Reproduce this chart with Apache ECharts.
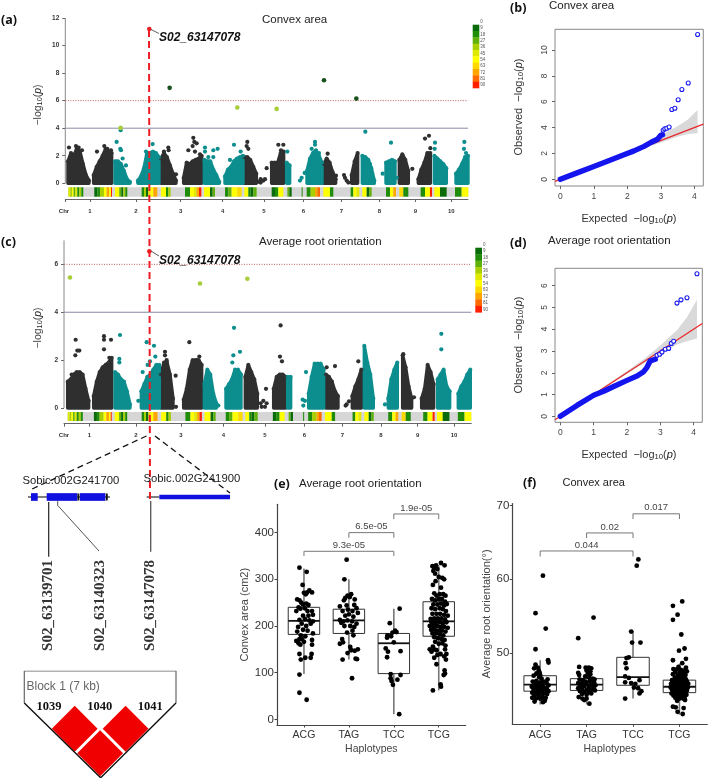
<!DOCTYPE html>
<html><head><meta charset="utf-8"><style>html,body{margin:0;padding:0;background:#fff}#c{width:708px;height:778px}</style>
<script src="https://cdn.jsdelivr.net/npm/echarts@6/dist/echarts.min.js"></script></head><body><div id="c"></div>
<script>
// ---------- Manhattan panel (a): column heights [start position, heights at steps of 9 position units]
const aBlackColumns=[[204,1.6,2.2,2.0,2.6,2.3,1.4,.6,.2],[281,.6,1.2,1.6,2.0,2.5,2.3,2.2],[483,1.8,2.2,1.9,1.3,.7,.2],[551,.4,1.5,1.4,1.6,1.7,1.8,2.0],[733,1.9,1.9,1.7,1.2,.7],[815,1.5,1.5,1.5,2.2,2.3],[971,1.4,1.8,1.5,.8,.3],[1055,.6,1.6,2.2],[1198,1.7,2.1,1.7,.9],[1255,.3,1.0,1.5,2.2,2.2]];
const aTealColumns=[[345,1.6,1.6,1.4,.9,.3,.1],[414,.2,.5,1.1,2.2,2.2,2.3,2.2,1.9],[613,1.7,1.6,1.6,1.0,.6,.1],[675,.5,1.0,1.2,1.6,1.8,1.9,2.0],[860,1.5,1.3],[921,.9,1.8,2.2,2.4,2.0,1.5],[1087,2.0,1.9,1.7,1.1,.2],[1158,1.5,1.6,1.7,1.6],[1303,2.0,1.8,1.6,1.4,1.1],[1368,.7,1.0,1.4,1.9,2.0]];
const aBlackPoints=[[207,2.6],[228,2.7],[236,2.6],[246,2.4],[291,2.3],[313,2.7],[322,2.5],[333,2.4],[492,2.3],[505,2.6],[506,2.4],[528,.65],[522,.2],[565,2.4],[580,3.3],[583,3.0],[578,2.7],[590,2.9],[585,2.3],[600,2.1],[742,3.0],[740,2.7],[745,2.5],[778,.1],[782,.3],[790,.2],[795,.3],[782,.05],[800,1.1],[835,2.8],[850,2.8],[843,2.4],[983,2.15],[1008,.55],[1032,.6],[1035,.4],[1040,.2],[1045,.05],[1237,1.05],[1275,3.25],[1287,3.45],[1291,2.55],[1265,.9]];
const aTealPoints=[[350,3.0],[362,3.85],[361,2.5],[363,2.4],[368,1.8],[378,1.3],[415,.1],[458,2.85],[438,2.3],[615,2.6],[615,2.3],[640,2.4],[653,2.5],[640,1.9],[625,1.9],[702,2.8],[722,2.3],[690,1.7],[862,2.3],[905,.4],[914,.75],[900,.2],[945,3.0],[945,2.8],[935,2.5],[957,2.2],[1096,3.75],[1110,1.4],[1148,.7],[1173,2.95],[1190,.4],[1305,2.95],[1304,2.5],[1393,3.0],[1392,2.5],[1398,2.2]];
const aHits=[[448,11.2,'#ee1c25'],[509,6.93,'#17521c'],[972,7.48,'#17521c'],[1069,6.15,'#17521c'],[712,5.5,'#a6ce39'],[830,5.4,'#a6ce39'],[362,4.02,'#a6ce39']];
const aChrTicks=[270,408,542,668,792,910,1024,1138,1246,1354];
// ---------- Manhattan panel (c)
const cBlackColumns=[[203,1.1,1.2,1.4,1.5,1.5,1.4,.8,.3],[281,.5,1.1,1.5,1.7,1.8,1.9,2.1],[483,1.4,1.9,1.9,1.4,.4],[551,.35,.8,1.6,2.0,2.0,2.0,1.8],[736,1.3,1.8,1.5,1.2,.6],[821,.8,1.3,1.4,1.4,1.3],[978,1.4,1.3,1.1,.7,.5],[1057,.5,.9,1.2,1.6],[1208,2.2,1.7,.9,.4],[1265,.4,.8,1.8,1.5,1.0]];
const cTealColumns=[[345,1.5,1.4,1.2,1.1,.7,.15],[424,.7,1,1.3,1.4,1.6,1.8,1.8],[613,1.0,1.6,1.4,.6,.2],[678,.8,1,1.2,1.6,1.6,1.4],[863,1.3,1.3],[926,.6,1.3,1.85,1.85,1.85,1.6],[1093,2.6,1.9,1.4,.4],[1165,.4,1.2,1.6,1.9],[1313,1.2,1.4,1.6,.9,.7],[1375,.6,.9,1.1,1.4,1.6]];
const cBlackPoints=[[227,2.85],[232,2.4],[238,2.4],[226,2.2],[215,1.4],[312,3.0],[312,2.85],[333,2.85],[312,2.45],[328,2.1],[495,2.35],[495,2.2],[500,2.0],[527,1.35],[528,.05],[568,2.75],[598,2.15],[590,2.0],[782,.2],[790,.3],[800,.2],[798,.8],[785,.05],[795,.05],[842,3.45],[840,2.15],[846,1.95],[980,1.7],[1005,1.75],[1037,.1],[1040,.15],[1047,.28],[1075,1.95],[1242,.45],[1210,2.25]];
const cTealPoints=[[360,3.05],[358,2.05],[358,1.9],[415,.3],[440,2.75],[462,2.6],[466,2.15],[450,1.95],[428,1.5],[443,1.8],[655,.1],[702,3.35],[720,2.35],[700,2.2],[697,1.9],[918,1.5],[908,.35],[915,.3],[910,.1],[1155,.15],[1324,3.1],[1324,2.45]];
const cHits=[[448,6.55,'#ee1c25'],[210,5.45,'#a6ce39'],[600,5.2,'#a6ce39'],[742,5.4,'#a6ce39']];
const cChrTicks=[268,408,543,670,795,913,1027,1143,1253,1362];
// ---------- SNP density strip [from, to, density class]
const densityColors=['#0a6b0a','#1f8c0a','#5fb00a','#a8d000','#dfe800','#ffff00','#ffd800','#ffa500','#ff6a00','#ff2000'];
const densityLabels=[0,9,18,27,36,45,54,63,72,81,90];
const stripSegments=[[205,211,4],[211,216,3],[216,221,5],[221,226,2],[226,232,4],[232,238,1],[238,244,3],[244,250,1],[283,292,0],[292,300,1],[300,312,3],[312,320,5],[320,328,7],[328,333,5],[333,336,9],[345,358,5],[358,364,2],[364,370,0],[370,376,3],[376,382,1],[425,432,1],[432,438,3],[438,445,0],[445,452,6],[452,460,5],[460,472,7],[483,498,5],[498,505,1],[505,512,3],[555,570,1],[570,582,5],[582,590,4],[590,597,7],[597,604,9],[612,630,5],[630,638,0],[638,645,2],[675,685,1],[685,695,2],[695,712,5],[712,725,6],[733,745,5],[745,752,1],[752,760,0],[760,770,2],[815,825,0],[825,835,1],[835,850,5],[862,868,2],[868,875,0],[905,908,1],[920,932,1],[932,945,3],[945,952,7],[952,960,8],[970,990,5],[990,1000,1],[1052,1060,1],[1060,1070,5],[1070,1078,4],[1087,1100,5],[1100,1108,0],[1108,1115,2],[1158,1170,1],[1170,1180,5],[1180,1188,7],[1198,1210,6],[1210,1225,1],[1262,1275,1],[1275,1290,5],[1290,1296,9],[1303,1320,5],[1320,1340,0],[1365,1385,1],[1385,1405,5]];
// ---------- QQ panels
const bLineX=[0,.5,1,1.5,1.9,2.2,2.5,2.7,2.9,3.0,3.05];
const bLineY=[0,.5,1,1.5,1.9,2.2,2.55,2.85,3.1,3.4,3.45];
const bSparse=[[3.07,3.8],[3.12,3.9],[3.18,3.95],[3.25,4.05],[3.33,5.4],[3.42,5.5],[3.52,6.15],[3.63,6.95],[3.82,7.45],[4.1,11.2]];
const bBandX=[2,2.5,3,3.5,3.8,4.1];
const bBandHi=[2.1,2.7,3.4,4.1,4.6,5.36];
const bBandLo=[1.93,2.38,2.85,3.3,3.5,3.56];
const dLineX=[0,.5,1,1.3,1.6,2,2.3,2.5,2.6,2.7,2.85];
const dLineY=[0,.5,.97,1.15,1.37,1.65,1.85,2.05,2.25,2.55,2.62];
const dSparse=[[2.9,2.8],[2.98,2.85],[3.05,2.95],[3.15,3.08],[3.25,3.12],[3.33,3.35],[3.4,3.45],[3.5,5.2],[3.62,5.35],[3.8,5.45],[4.1,6.55]];
const dBandX=[1.2,2,2.5,3,3.5,3.8,4.1];
const dBandHi=[1.25,2.08,2.62,3.25,3.95,4.55,5.35];
const dBandLo=[1.18,1.95,2.43,2.85,3.3,3.45,3.58];
// ---------- Haplotype panels
const categories=['ACG','TAG','TCC','TCG'];
const eLo=[97,128,11,62],eQ1=[182,184,98,178],eMed=[211,212,163,210],eQ3=[240,236,184,252],eHi=[323,300,237,330];
const ePairs=[[1,3,350,360,'9.3e-05'],[2,3,389,400,'6.5e-05'],[3,4,429,440,'1.9e-05']];
const eACG=[[-.1,325],[.06,316],[-.03,288],[0,271],[.07,272],[.12,276],[.18,272],[.04,268],[-.15,257],[-.1,255],[-.06,250],[-.02,246],[.05,248],[.1,245],[-.12,240],[-.17,232],[-.08,237],[.02,238],[.08,232],[.18,232],[.2,224],[.1,222],[-.02,222],[.02,215],[.12,212],[-.1,213],[.2,210],[-.05,205],[.05,200],[.15,205],[-.13,198],[-.02,192],[.08,190],[.2,184],[-.15,188],[-.07,180],[.03,178],[-.1,172],[-.17,168],[0,166],[-.12,163],[.18,170],[.18,160],[-.08,160],[-.05,172],[.17,140],[.15,132],[-.1,140],[-.07,128],[.03,132],[-.1,96],[-.1,57],[.06,42]];
const eTAG=[[-.05,342],[-.1,300],[.05,268],[-.03,265],[-.08,260],[-.11,255],[.13,257],[.02,262],[.12,245],[-.2,242],[-.05,244],[.17,238],[-.14,232],[-.02,235],[.08,232],[.2,228],[0,225],[-.08,222],[.1,220],[-.2,213],[-.12,210],[-.03,212],[.07,210],[.17,205],[-.17,207],[-.1,200],[.03,200],[.12,198],[.08,190],[-.04,186],[.1,180],[-.15,172],[-.2,162],[-.13,165],[.03,155],[.05,148],[.2,150],[.13,147],[-.03,142],[.15,130],[.18,129],[-.14,128],[.07,88]];
const eTCC=[[.13,237],[-.09,206],[.03,190],[.06,187],[-.03,186],[-.14,180],[-.15,175],[-.06,178],[0,165],[-.18,152],[-.13,145],[.15,146],[-.15,133],[-.07,97],[.15,95],[-.07,88],[-.05,82],[.08,85],[-.02,74],[.12,11]];
const eTCG=[[-.14,328],[-.1,325],[-.12,318],[-.08,312],[-.06,330],[-.03,322],[.05,335],[.13,330],[0,305],[.08,303],[.12,300],[-.13,288],[-.07,296],[.05,282],[-.1,270],[-.05,265],[.02,268],[.1,268],[.15,265],[-.15,258],[-.08,255],[0,258],[.07,258],[.14,252],[.18,247],[-.12,246],[-.03,246],[.05,248],[.12,244],[-.16,238],[-.08,236],[.02,238],[.09,236],[.16,232],[-.14,226],[-.05,226],[.03,226],[.12,224],[.2,222],[-.18,215],[-.1,216],[-.02,216],[.06,216],[.14,214],[-.16,208],[-.08,208],[.01,208],[.09,206],[.17,208],[-.2,200],[-.12,200],[-.04,200],[.04,198],[.12,198],[.2,196],[-.17,192],[-.09,192],[-.01,190],[.07,190],[.15,188],[-.14,184],[-.06,184],[.03,182],[.1,180],[-.1,176],[-.02,174],[.06,172],[.13,170],[-.08,166],[0,162],[.08,163],[.15,158],[-.13,156],[-.1,150],[-.05,148],[-.2,150],[-.16,145],[.14,150],[.17,140],[.12,135],[.16,128],[-.03,138],[.04,140],[-.1,132],[-.05,118],[.13,105],[.14,98],[.11,95],[.04,75],[.05,70],[-.13,62]];
const fLo=[43,43,43.8,41.6],fQ1=[44.8,44.9,45.6,44.6],fMed=[45.7,45.7,46.7,45.4],fQ3=[46.9,46.5,49.4,46.3],fHi=[49,48,53,48.5];
const fPairs=[[1,3,63.1,63.85,'0.044'],[2,3,65.6,66.3,'0.02'],[3,4,68.2,68.9,'0.017']];
const fACG=[[.06,60.5],[-.1,55.4],[.12,53.3],[-.1,50.5],[.17,49],[.18,48.7],[-.1,48.4],[-.05,48],[-.13,47.9],[-.03,47.6],[-.01,47.3],[0,47],[-.08,47.2],[-.14,46.9],[-.02,46.7],[.03,46.5],[.16,46.4],[-.16,46.1],[-.08,46.2],[0,46],[.08,46.1],[.14,45.9],[-.12,45.8],[-.04,45.7],[.05,45.6],[.18,45.6],[-.18,45.4],[-.09,45.4],[-.01,45.3],[.07,45.3],[.14,45.2],[-.14,45],[-.05,45],[.03,44.9],[.11,44.9],[.18,44.8],[-.17,44.6],[-.09,44.6],[0,44.6],[.08,44.5],[.15,44.4],[-.13,44.2],[-.04,44.2],[.05,44.1],[.12,43.9],[-.17,43.9],[-.09,43.8],[0,43.8],[.08,43.7],[-.12,43.4],[.1,43.5],[.06,43.3]];
const fTAG=[[.15,54.8],[-.18,52],[-.16,48.1],[-.02,48],[.05,48],[.1,47.9],[0,47.6],[.08,47.5],[.03,47.2],[.08,47.1],[-.18,47.3],[-.16,47],[-.03,46.8],[.05,46.7],[.13,46.5],[.17,46.4],[-.15,46.4],[-.08,46.3],[-.02,46.1],[.07,46.2],[.16,46],[-.18,45.9],[-.1,45.9],[0,45.8],[.1,45.7],[.19,45.6],[-.14,45.5],[-.05,45.5],[.05,45.4],[.15,45.3],[-.18,45.2],[-.1,45.1],[0,45],[.1,45],[.18,44.9],[-.14,44.8],[-.05,44.7],[.05,44.7],[-.1,44.4],[0,44.3],[.1,44.5],[-.17,44],[-.09,43.8],[-.05,43.6],[0,43.8],[.06,43.1]];
const fTCC=[[.115,62.7],[.08,61.85],[-.04,52.9],[-.02,51.4],[.16,51.4],[-.14,49.3],[-.09,49.4],[-.16,48.6],[-.14,47.9],[-.17,46.8],[-.09,46.6],[.14,46.3],[-.17,46],[-.04,45.9],[.05,45.8],[.11,45.2],[.18,44.8],[.14,44.5],[-.17,43.8],[.02,45.3]];
const fTCG=[[.06,57],[-.14,56.4],[-.04,55.2],[-.14,54.5],[.04,52.5],[.11,50.6],[-.01,50.3],[.14,49.2],[-.14,49],[.06,48.6],[-.02,48.1],[.14,48],[-.13,47.8],[-.05,47.8],[.03,47.7],[.1,47.6],[.16,47.5],[-.09,47.4],[0,47.3],[.07,47.2],[-.14,47.1],[.13,47],[-.04,46.9],[.03,46.8],[.1,46.8],[-.1,46.6],[-.02,46.5],[.06,46.5],[.14,46.4],[-.16,46.3],[-.07,46.2],[0,46.2],[.08,46.2],[.16,46.1],[-.12,46],[-.04,46],[.04,45.9],[.12,45.9],[.19,45.8],[-.18,45.8],[-.09,45.7],[-.01,45.7],[.06,45.7],[.14,45.6],[-.15,45.5],[-.06,45.5],[.02,45.4],[.1,45.4],[.18,45.3],[-.19,45.3],[-.11,45.2],[-.03,45.2],[.05,45.2],[.13,45.1],[-.16,45],[-.08,45],[0,45],[.08,44.9],[.16,44.9],[-.12,44.8],[-.04,44.7],[.04,44.7],[.12,44.6],[-.17,44.5],[-.09,44.5],[-.01,44.4],[.07,44.4],[.15,44.3],[-.13,44.2],[-.05,44.2],[.03,44.1],[.11,44],[-.09,43.9],[0,43.8],[.08,43.8],[-.05,43.5],[.12,43.6],[-.14,42.7],[-.08,42.6],[.09,42.5],[-.04,42],[.07,41.7]];
// ---------- Gene models (base pairs on chromosome 2)
const gene1Span=[63138204,63144133],gene1Exons=[[63138421,63138906],[63139556,63141768],[63141964,63143793]],gene1Marks=[63141850,63143900];
const gene2Span=[63146789,63147700],gene2Exons=[[63147700,63152810]];
// ---------- LD block: [marker i, marker j, D']
const ldMarkers=[1039,1040,1041];
const ldCells=[[1039,1040,1],[1040,1041,1],[1039,1041,1]];
const ldTopOutline=[[1038.51,-.05],[1038.51,-1.36],[1041.49,-1.36],[1041.49,-.05]];
const ldLowOutline=[[1038.51,-.05],[1040.01,3.0],[1041.49,-.05]];

const BLACK='#2f2f2f',TEAL='#0c8d8e',SANS='"Liberation Sans",Arial,sans-serif',SERIF='"Liberation Serif",serif';
function columns(list,color){const out=[];list.forEach(b=>{for(let i=1;i<b.length;i++)out.push({value:[b[0]+(i-1)*9,b[i]],itemStyle:{color}})});return out}
function hidden(g,min,max,extra){return Object.assign({type:'value',gridIndex:g,min,max,show:false},extra||{})}
function manhattanX(g,min,max,ticks){return {type:'value',gridIndex:g,min,max,splitLine:{show:false},axisLine:{onZero:false,lineStyle:{color:'#666',width:1}},
  axisTick:{length:3,lineStyle:{color:'#666'},customValues:[min].concat(ticks)},
  axisLabel:{customValues:ticks,margin:9,fontSize:6,fontWeight:'bold',color:'#333',fontFamily:SANS,formatter:v=>String(ticks.indexOf(v)+1)}}}
function manhattanY(g,min,max,vals){return {type:'value',gridIndex:g,min,max,splitLine:{show:false},axisLine:{show:false},
  axisTick:{length:3,lineStyle:{color:'#666'},customValues:vals},axisLabel:{customValues:vals,margin:6,fontSize:6.5,fontWeight:'bold',color:'#333',fontFamily:SANS}}}
function manhattanSeries(g,blackC,tealC,blackP,tealP,hits,x0,yTop,strip,stripAxis){
  const cols=columns(blackC,BLACK).concat(columns(tealC,TEAL));
  const blocks=blackC.map(b=>({b,c:BLACK})).concat(tealC.map(b=>({b,c:TEAL})));
  const ax={xAxisIndex:g,yAxisIndex:g};
  const xEnd=g===0?1404:1414;
  return [
   Object.assign({type:'line',data:[[x0,0],[x0,yTop]],symbol:'none',lineStyle:{color:'#888',width:1},silent:true,z:1},ax),
   Object.assign({type:'line',data:[[x0,4],[xEnd,4]],symbol:'none',lineStyle:{color:'#8a8aa6',width:1},silent:true,z:1},ax),
   Object.assign({type:'line',data:[[x0,6],[xEnd,6]],symbol:'none',lineStyle:{color:'#c0605a',width:1,type:[1,1.5]},silent:true,z:1},ax),
   {type:'custom',xAxisIndex:stripAxis,yAxisIndex:g,data:[[205,1405,-1]].concat(stripSegments),z:2,silent:true,clip:false,
    renderItem:(p,api)=>{const a=api.coord([api.value(0),strip[0]]),b=api.coord([api.value(1),strip[1]]);const k=api.value(2);
      return {type:'rect',shape:{x:a[0],y:a[1],width:b[0]-a[0],height:b[1]-a[1]},style:{fill:k<0?'#d6d6d6':densityColors[k]}}}},
   Object.assign({type:'custom',data:blocks.map((o,i)=>[i]),z:3,silent:true,clip:false,renderItem:(p,api)=>{
     const o=blocks[p.dataIndex],b=o.b,xs=b[0],n=b.length-1,pts=[api.coord([xs,0])];
     for(let i=1;i<=n;i++)pts.push(api.coord([xs+(i-1)*9,b[i]]));
     pts.push(api.coord([xs+(n-1)*9,0]));
     return {type:'polygon',shape:{points:pts},style:{fill:o.c,stroke:o.c,lineWidth:3.4,lineJoin:'round'}}}},ax),
   Object.assign({type:'scatter',data:cols,symbolSize:4.2,z:4,silent:true},ax),
   Object.assign({type:'scatter',data:blackP,symbolSize:4.2,itemStyle:{color:BLACK,opacity:1},z:4,silent:true},ax),
   Object.assign({type:'scatter',data:tealP,symbolSize:4.2,itemStyle:{color:TEAL,opacity:1},z:4,silent:true},ax),
   Object.assign({type:'scatter',data:hits.map(h=>({value:[h[0],h[1]],itemStyle:{color:h[2],opacity:1}})),symbolSize:4.6,z:5,silent:true},ax)
  ];
}
function qqAxes(g,xr,yr,xv,yv){return [
 {type:'value',gridIndex:g,min:xr[0],max:xr[1],splitLine:{show:false},axisLine:{show:false,onZero:false},axisTick:{length:3,lineStyle:{color:'#666'},customValues:xv},axisLabel:{customValues:xv,margin:6,fontSize:8.5,color:'#444',fontFamily:SANS}},
 {type:'value',gridIndex:g,min:yr[0],max:yr[1],splitLine:{show:false},axisLine:{show:false,onZero:false},axisTick:{length:3,lineStyle:{color:'#666'},customValues:yv},axisLabel:{customValues:yv,margin:6,rotate:90,fontSize:8.5,color:'#444',fontFamily:SANS}}]}
function qqSeries(g,lx,ly,sparse,bx,hi,lo,xr){const ax={xAxisIndex:g,yAxisIndex:g};return [
 Object.assign({type:'custom',data:[[0]],z:2,silent:true,renderItem:(p,api)=>{const up=bx.map((x,i)=>api.coord([x,hi[i]]));const dn=bx.map((x,i)=>api.coord([x,lo[i]])).reverse();
   return {type:'polygon',shape:{points:up.concat(dn)},style:{fill:'#d9d9d9'}}}},ax),
 Object.assign({type:'line',data:[[xr[0],xr[0]],[xr[1],xr[1]]],symbol:'none',lineStyle:{color:'#e8262a',width:1.2},z:3,silent:true},ax),
 Object.assign({type:'line',data:lx.map((x,i)=>[x,ly[i]]),symbol:'none',lineStyle:{color:'#1414ee',width:5.4,cap:'round',join:'round'},z:4,silent:true},ax),
 Object.assign({type:'scatter',data:sparse,symbol:'circle',symbolSize:4,itemStyle:{color:'#fff',opacity:1,borderColor:'#1c1cf0',borderWidth:1.1},z:5,silent:true},ax)
]}
function boxAxes(g,yr,yv,name,gap){return [
 {type:'value',gridIndex:g,min:.4,max:4.6,splitLine:{show:false},axisLine:{onZero:false,lineStyle:{color:'#444',width:1.2}},axisTick:{length:2.5,lineStyle:{color:'#444'},customValues:[1,2,3,4]},
  axisLabel:{customValues:[1,2,3,4],margin:5,fontSize:10.5,color:'#333',fontFamily:SANS,formatter:v=>categories[v-1]},
  name:'Haplotypes',nameLocation:'middle',nameGap:19,nameTextStyle:{fontSize:10.5,color:'#444',fontFamily:SANS}},
 {type:'value',gridIndex:g,min:yr[0],max:yr[1],splitLine:{show:false},axisLine:{onZero:false,show:true,lineStyle:{color:'#444',width:1.2}},axisTick:{show:true,length:2.5,lineStyle:{color:'#444'},customValues:yv},
  axisLabel:{customValues:yv,margin:3,fontSize:11.5,color:'#333',fontFamily:SANS},
  name,nameLocation:'middle',nameGap:gap,nameTextStyle:{fontSize:11,color:'#444',fontFamily:SANS}}]}
function boxSeries(g,lo,q1,med,q3,hi,pairs,groups){const ax={xAxisIndex:g,yAxisIndex:g};const pts=[];
 groups.forEach((arr,i)=>arr.forEach(d=>pts.push([i+1+d[0],d[1]])));
 return [
 Object.assign({type:'custom',data:categories.map((c,i)=>[i+1,lo[i],q1[i],med[i],q3[i],hi[i]]),z:2,silent:true,renderItem:(p,api)=>{
   const c=api.value(0),w=.35,P=(x,y)=>api.coord([x,y]);
   const a=P(c,api.value(1)),b=P(c,api.value(2)),m=P(c,api.value(3)),t=P(c,api.value(4)),h=P(c,api.value(5)),L=P(c-w,0)[0],R=P(c+w,0)[0];
   return {type:'group',children:[
     {type:'line',shape:{x1:a[0],y1:a[1],x2:h[0],y2:h[1]},style:{stroke:'#777',lineWidth:1.6}},
     {type:'rect',shape:{x:L,y:t[1],width:R-L,height:b[1]-t[1]},style:{fill:'#fff',stroke:'#333',lineWidth:1}},
     {type:'line',shape:{x1:L,y1:m[1],x2:R,y2:m[1]},style:{stroke:'#111',lineWidth:1.8}}]}}},ax),
 Object.assign({type:'scatter',data:pts,symbolSize:4.8,itemStyle:{color:'#000',opacity:1},z:3,silent:true},ax),
 Object.assign({type:'custom',data:pairs.map(q=>[q[0],q[1],q[2],q[3]]),z:4,silent:true,renderItem:(p,api)=>{
   const x1=api.value(0),x2=api.value(1),tip=api.value(2),y=api.value(3);
   const A=api.coord([x1,tip]),B=api.coord([x1,y]),C=api.coord([x2,y]),D=api.coord([x2,tip]);
   return {type:'group',children:[
     {type:'polyline',shape:{points:[A,B,C,D]},style:{stroke:'#777',lineWidth:1,fill:'none'}},
     {type:'text',style:{x:(B[0]+C[0])/2,y:B[1]-1,text:pairs[p.dataIndex][4],fill:'#444',font:'9.5px '+SANS,align:'center',verticalAlign:'bottom',textAlign:'center',textVerticalAlign:'bottom'}}]}}},ax)
]}
const geneRows=[];
gene1Exons.forEach(e=>geneRows.push({s:e,h:7.7,c:'#1010e0'}));
gene2Exons.forEach(e=>geneRows.push({s:e,h:4.7,c:'#1010e0'}));
gene1Marks.forEach(m=>geneRows.push({s:[m-70,m+70],h:7,c:'#111'}));

function T(x,y,text,font,o){return Object.assign({type:'text',x,y,rotation:o&&o.rot?Math.PI/2:0,z:20,silent:true,style:{text,font,fill:(o&&o.fill)||'#222',align:(o&&o.align)||'left',verticalAlign:'middle',textAlign:(o&&o.align)||'left',textVerticalAlign:'middle',rich:o&&o.rich}})}
function L(x1,y1,x2,y2,stroke,w,dash){return {type:'line',z:15,silent:true,shape:{x1,y1,x2,y2},style:{stroke,lineWidth:w,lineDash:dash||null}}}
const logRich=(fs,c)=>({a:{fontSize:fs,fontFamily:SANS,fill:c,color:c},b:{fontSize:fs*.7,fontFamily:SANS,color:c,verticalAlign:'bottom',padding:[fs*.3,0,0,0]},i:{fontSize:fs,fontFamily:SANS,fontStyle:'italic',color:c}});
const logTxt=p=>'{a|'+p+'−log}{b|10}{a|(}{i|p}{a|)}';
const gfx=[
 T(1,20,'(a)','bold 12.5px "Open Sans",sans-serif',{fill:'#111'}),T(1,242,'(c)','bold 12.5px "Open Sans",sans-serif',{fill:'#111'}),
 T(510,8,'(b)','bold 12.5px "Open Sans",sans-serif',{fill:'#111'}),T(510,243,'(d)','bold 12.5px "Open Sans",sans-serif',{fill:'#111'}),
 T(274,484,'(e)','bold 12.5px "Open Sans",sans-serif',{fill:'#111'}),T(523,483,'(f)','bold 12.5px "Open Sans",sans-serif',{fill:'#111'}),
 T(262,19.5,'Convex area','11.5px '+SANS),T(259,241.5,'Average root orientation','11.5px '+SANS),
 T(549,5.5,'Convex area','11.5px '+SANS),T(548,240.5,'Average root orientation','11.5px '+SANS),
 T(299,484,'Average root orientation','11.5px '+SANS),T(562.5,483,'Convex area','11px '+SANS),
 T(38,105,logTxt(''),'10.5px '+SANS,{rot:1,align:'center',rich:logRich(10.5,'#444')}),
 T(38,328,logTxt(''),'10.5px '+SANS,{rot:1,align:'center',rich:logRich(10.5,'#444')}),
 T(519,107,logTxt('Observed  '),'11px '+SANS,{rot:1,align:'center',rich:logRich(11,'#333')}),
 T(519,345,logTxt('Observed  '),'11px '+SANS,{rot:1,align:'center',rich:logRich(11,'#333')}),
 T(629,219,logTxt('Expected  '),'11px '+SANS,{align:'center',rich:logRich(11,'#333')}),
 T(629,455,logTxt('Expected  '),'11px '+SANS,{align:'center',rich:logRich(11,'#333')}),
 T(64,211,'Chr','bold 6px '+SANS,{align:'center',fill:'#333'}),T(64,435.5,'Chr','bold 6px '+SANS,{align:'center',fill:'#333'}),
 T(159,37.5,'S02_63147078','italic bold 12px '+SANS,{fill:'#111'}),T(159,260.5,'S02_63147078','italic bold 12px '+SANS,{fill:'#111'}),
 L(151,29.5,159,33.5,'#333',.8),L(151,251,159,256,'#333',.8),
 L(149,30,150,502,'#ee1c25',2,[7,4]),
 L(146.5,436,30,490,'#111',1.3,[6,4]),L(155,436,230,493,'#111',1.3,[6,4]),
 T(22.5,480.7,'Sobic.002G241700','11.3px '+SANS),T(143.5,479.3,'Sobic.002G241900','11.3px '+SANS),
 L(48.7,502,48.7,556.7,'#222',1.2),L(58.3,506,99,551,'#555',1),L(57.7,501,57.7,506,'#555',1),L(150.7,501,150.7,551.7,'#555',1.3),
 T(48.5,605.5,'S02_63139701','bold 15px '+SERIF,{rot:1,align:'center',fill:'#333'}),
 T(100,605.5,'S02_63140323','bold 15px '+SERIF,{rot:1,align:'center',fill:'#333'}),
 T(150.5,605.5,'S02_63147078','bold 15px '+SERIF,{rot:1,align:'center',fill:'#333'}),
 T(26.5,687,'Block 1 (7 kb)','12px '+SANS,{fill:'#666'}),
 T(49,707,'1039','bold 12.5px '+SERIF,{align:'center',fill:'#111'}),T(99.7,707,'1040','bold 12.5px '+SERIF,{align:'center',fill:'#111'}),T(150.3,707,'1041','bold 12.5px '+SERIF,{align:'center',fill:'#111'})
];
function ramp(x,y0,cell,w){densityColors.forEach((c,i)=>gfx.push({type:'rect',z:12,silent:true,shape:{x,y:y0+i*cell,width:w,height:cell+.3},style:{fill:c}}));
 densityLabels.forEach((v,i)=>gfx.push(T(x+w+1,y0-2.7+i*cell-0.3,String(v),'4.5px '+SANS,{fill:'#555'})))}
ramp(472.7,24.7,6.33,6.6);ramp(475.3,247.7,6.46,6.7);

const opt={animation:false,backgroundColor:'#fff',
 grid:[
  {left:65.3,top:18,width:402.7,height:181},
  {left:64,top:240.4,width:407.3,height:183.3},
  {left:555,top:29.3,width:148.3,height:156.7,show:true,borderColor:'#888',borderWidth:1},
  {left:555,top:268.3,width:147.3,height:154,show:true,borderColor:'#888',borderWidth:1},
  {left:277,top:504.3,width:188.7,height:220.7},
  {left:512.3,top:503.5,width:195,height:220.8},
  {left:0,top:490,width:240,height:14},
  {left:24.3,top:671,width:151.7,height:108}],
 xAxis:[manhattanX(0,196,1404,aChrTicks),manhattanX(1,192,1414,cChrTicks),
  qqAxes(2,[-.16,4.27],[-.515,11.6],[0,1,2,3,4],[0,2,4,6,8,10])[0],qqAxes(3,[-.16,4.26],[-.276,6.8],[0,1,2,3,4],[0,1,2,3,4,5,6])[0],
  boxAxes(4,[-12.1,460.7],[0,100,200,300,400],'Convex area (cm2)',15.5)[0],boxAxes(5,[40.3,70.3],[50,60,70],'Average root orientation(°)',12)[0],
  hidden(6,63136180,63153532),hidden(7,1038.51,1041.49),hidden(1,194.1,1405)],
 yAxis:[manhattanY(0,-1.14,12,[0,2,4,6,8,10,12]),manhattanY(1,-.655,7,[0,2,4,6]),
  qqAxes(2,[-.16,4.27],[-.515,11.6],[0,1,2,3,4],[0,2,4,6,8,10])[1],qqAxes(3,[-.16,4.26],[-.276,6.8],[0,1,2,3,4],[0,1,2,3,4,5,6])[1],
  boxAxes(4,[-12.1,460.7],[0,100,200,300,400],'Convex area (cm2)',15.5)[1],boxAxes(5,[40.3,70.3],[50,60,70],'Average root orientation(°)',12)[1],
  hidden(6,0,1),hidden(7,-1.36,3.01,{inverse:true})],
 graphic:{elements:gfx},
 series:[].concat(
  manhattanSeries(0,aBlackColumns,aTealColumns,aBlackPoints,aTealPoints,aHits,196,12,[-.29,-.97],0),
  manhattanSeries(1,cBlackColumns,cTealColumns,cBlackPoints,cTealPoints,cHits,192,7,[-.167,-.543],8),
  qqSeries(2,bLineX,bLineY,bSparse,bBandX,bBandHi,bBandLo,[-.16,4.27]),
  qqSeries(3,dLineX,dLineY,dSparse,dBandX,dBandHi,dBandLo,[-.16,4.26]),
  boxSeries(4,eLo,eQ1,eMed,eQ3,eHi,ePairs,[eACG,eTAG,eTCC,eTCG]),
  boxSeries(5,fLo,fQ1,fMed,fQ3,fHi,fPairs,[fACG,fTAG,fTCC,fTCG]),
  [{type:'line',xAxisIndex:6,yAxisIndex:6,data:[[gene1Span[0],.5],[gene1Span[1],.5]],symbol:'none',lineStyle:{color:'#555',width:1.6},silent:true,z:2},
   {type:'line',xAxisIndex:6,yAxisIndex:6,data:[[gene2Span[0],.5],[gene2Span[1],.5]],symbol:'none',lineStyle:{color:'#555',width:1.6},silent:true,z:2},
   {type:'custom',xAxisIndex:6,yAxisIndex:6,data:geneRows.map(r=>r.s),silent:true,z:3,clip:false,renderItem:(p,api)=>{
     const r=geneRows[p.dataIndex],a=api.coord([api.value(0),.5]),b=api.coord([api.value(1),.5]);
     return {type:'rect',shape:{x:a[0],y:a[1]-r.h/2,width:b[0]-a[0],height:r.h},style:{fill:r.c}}}},
   {type:'custom',xAxisIndex:7,yAxisIndex:7,data:ldCells,silent:true,z:3,renderItem:(p,api)=>{
     const i=api.value(0),j=api.value(1),x=(i+j)/2,d=j-i,hw=.45,hh=.94;
     return {type:'polygon',shape:{points:[api.coord([x,d-hh]),api.coord([x+hw,d]),api.coord([x,d+hh]),api.coord([x-hw,d])]},style:{fill:'#f00000'}}}},
   {type:'line',xAxisIndex:7,yAxisIndex:7,data:ldTopOutline,symbol:'none',lineStyle:{color:'#666',width:1.2},silent:true,z:4},
   {type:'line',xAxisIndex:7,yAxisIndex:7,data:ldLowOutline,symbol:'none',lineStyle:{color:'#111',width:1.4},silent:true,z:4,clip:false}])
};
echarts.init(document.getElementById('c'),null,{renderer:'canvas'}).setOption(opt);
</script></body></html>
